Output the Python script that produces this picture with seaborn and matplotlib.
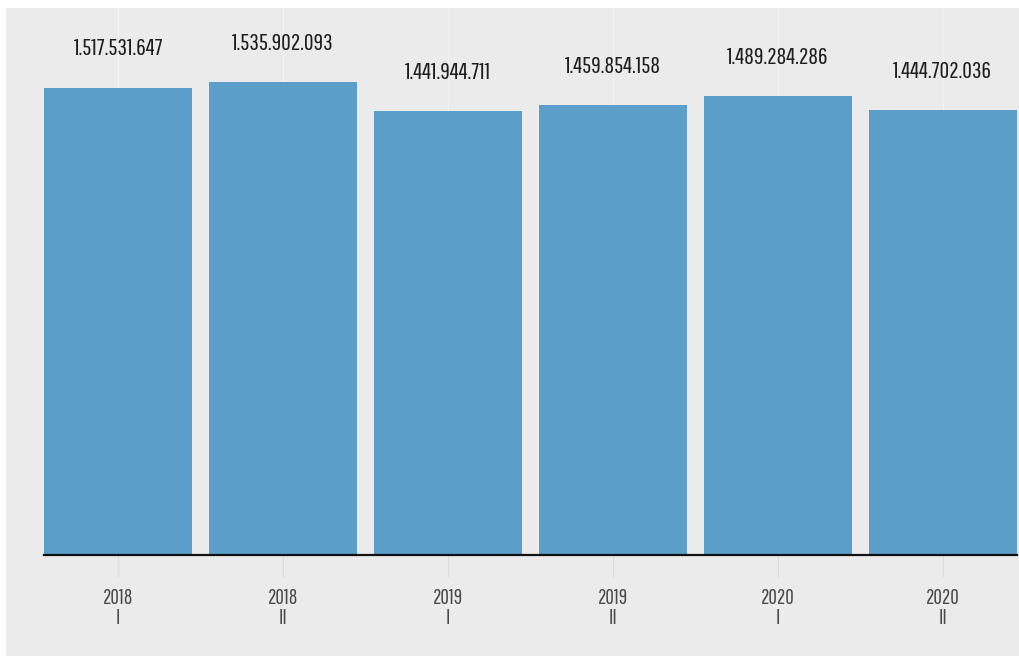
import matplotlib.pyplot as plt
import matplotlib.patches as mpatches
import seaborn as sb
import pandas as pd

years = ['2018', '2018', '2019', '2019', '2020', '2020']
semesters = ['I', 'II', 'I', 'II', 'I', 'II']
values = [1517531647, 1535902093, 1441944711, 1459854158, 1489284286, 1444702036]

bar_color = '#5b9eca'
panel_color = '#ebebeb'
font_list = ['Pathway Gothic One', 'Oswald', 'DejaVu Sans']

labels = [f'{y}\n{s}' for y, s in zip(years, semesters)]
df = pd.DataFrame({'period': labels, 'value': values})

fig = plt.figure(figsize=(10.2, 6.59), dpi=100, facecolor='white')
# grey panel behind the plot
fig.patches.append(mpatches.Rectangle((6 / 1020, 3 / 659), 1 - 6 / 1020, 1 - 11 / 659,
                                      transform=fig.transFigure, facecolor=panel_color,
                                      edgecolor='none', zorder=-5))

ax = fig.add_axes([44 / 1020, (659 - 555) / 659, 973 / 1020, (555 - 8) / 659])
ax.set_facecolor('none')
ax.set_zorder(1)

sb.barplot(data=df, x='period', y='value', color=bar_color, width=0.9,
           saturation=1, ax=ax, zorder=2)

ax.set_xlim(-0.45, 5.45)
ax.set_ylim(0, 1.7764e9)

# faint vertical guides at bar centers
for i in range(len(values)):
    ax.axvline(i, color='#f3f3f3', linewidth=0.8, zorder=1)

for i, v in enumerate(values):
    txt = f'{v:,}'.replace(',', '.')
    ax.annotate(txt, xy=(i, v), xytext=(0, 28), textcoords='offset points',
                ha='center', va='center', fontsize=17, color='#1e1e1e',
                family=font_list)

for side in ['top', 'right', 'left']:
    ax.spines[side].set_visible(False)
ax.spines['bottom'].set_color('#111111')
ax.spines['bottom'].set_linewidth(1.6)
ax.spines['bottom'].set_zorder(3)

ax.set_yticks([])
ax.set_xlabel('')
ax.set_ylabel('')
ax.tick_params(axis='x', length=16, width=0.8, color='#dcdcdc', pad=8,
               labelsize=15, labelcolor='#484848')
for lab in ax.get_xticklabels():
    lab.set_family(font_list)
    lab.set_linespacing(0.95)

plt.savefig('out.png', dpi=100, facecolor='white')
plt.close()
